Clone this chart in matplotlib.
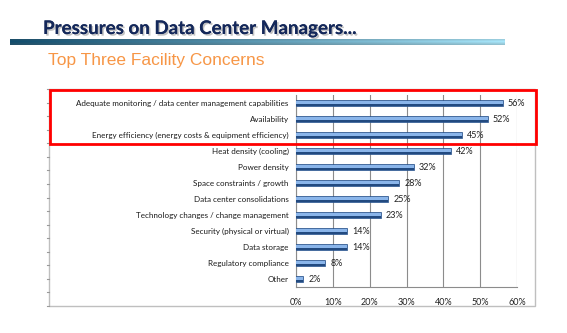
import numpy as np
import matplotlib
matplotlib.use("Agg")
import matplotlib.pyplot as plt
import matplotlib.patheffects as pe
from matplotlib.patches import Rectangle

categories = [
    "Adequate monitoring / data center management capabilities",
    "Availability",
    "Energy efficiency (energy costs & equipment efficiency)",
    "Heat density (cooling)",
    "Power density",
    "Space constraints / growth",
    "Data center consolidations",
    "Technology changes / change management",
    "Security (physical or virtual)",
    "Data storage",
    "Regulatory compliance",
    "Other",
]
values = [56, 52, 45, 42, 32, 28, 25, 23, 14, 14, 8, 2]
xticks = [0, 10, 20, 30, 40, 50, 60]
xtick_labels = ["0%", "10%", "20%", "30%", "40%", "50%", "60%"]
title = "Pressures on Data Center Managers..."
subtitle = "Top Three Facility Concerns"

W, H = 567, 333
fig = plt.figure(figsize=(W / 100, H / 100), dpi=100)
fig.patch.set_facecolor("white")

def fx(px):
    return px / W

def fy(py):
    return 1 - py / H

# Title
fig.text(fx(43), fy(28.5), title, fontsize=13.5, fontweight="bold", family="Lato",
         color="#14285a", va="center", ha="left",
         path_effects=[pe.withSimplePatchShadow(offset=(1.2, -1.2), shadow_rgbFace="#9a9a9a", alpha=0.6), pe.Normal()])

# Gradient rule
gax = fig.add_axes([fx(10), fy(45), fx(505) - fx(10), (45 - 38.5) / H])
gax.set_axis_off()
n = 400
t = np.linspace(0, 1, n)
left = np.array([0x10, 0x4c, 0x6c]) / 255
right = np.array([0xa8, 0xe6, 0xfa]) / 255
row = left[None, :] * (1 - t[:, None]) + right[None, :] * t[:, None]
vert = np.array([0.75, 0.9, 1.0, 0.9, 0.75])
img = np.clip(row[None, :, :] * vert[:, None, None] + (1 - vert[:, None, None]) * 0.35, 0, 1)
gax.imshow(img, aspect="auto", extent=[0, 1, 0, 1], interpolation="bilinear")
gax.set_xlim(0, 1)
gax.set_ylim(0, 1)

# Subtitle
fig.text(fx(48), fy(60), subtitle, fontsize=12.5, family="Liberation Sans",
         color="#f79646", va="center", ha="left")

# Chart frame
frame = Rectangle((fx(49), fy(306)), fx(535) - fx(49), fy(89) - fy(306),
                  transform=fig.transFigure, fill=False, edgecolor="#bfbfbf", linewidth=1.0)
fig.patches.append(frame)
for yy in np.linspace(89, 306, 17):
    fig.lines.append(plt.Line2D([fx(46.5), fx(49)], [fy(yy), fy(yy)], transform=fig.transFigure,
                                color="#9a9a9a", linewidth=0.8))

# Plot axes
ax = fig.add_axes([fx(295.7), fy(287.3), fx(517.3) - fx(295.7), fy(95.3) - fy(287.3)])
y = np.arange(len(categories))
bh = 0.38
ax.barh(y, values, height=bh, color="#3f74bb", edgecolor="#254e86", linewidth=0.5, zorder=3)
ax.barh(y - bh * 0.1, values, height=bh * 0.4, color="#8ab5ea", linewidth=0, zorder=4)
ax.barh(y + bh * 0.3, values, height=bh * 0.28, color="#224a80", linewidth=0, zorder=4)
for yi, v in zip(y, values):
    ax.text(v + 1.4, yi, f"{v}%", va="center", ha="left", fontsize=6.5, family="Lato", color="#222222")
ax.set_ylim(len(categories) - 0.5, -0.5)
ax.set_xlim(0, 60)
ax.set_xticks(xticks)
ax.set_xticklabels(xtick_labels, fontsize=6.5, family="Lato", color="#222222")
ax.set_yticks(y)
ax.set_yticklabels(categories, fontsize=5.8, family="Lato", color="#1a1a1a")
ax.tick_params(axis="both", length=0, pad=5)
ax.tick_params(axis="x", pad=8)
ax.grid(axis="x", color="#8c8c8c", linewidth=0.8, zorder=0)
for s in ["top", "right"]:
    ax.spines[s].set_visible(False)
for s in ["left", "bottom"]:
    ax.spines[s].set_color("#8c8c8c")
    ax.spines[s].set_linewidth(0.8)

# Red highlight box
red = Rectangle((fx(49.5), fy(144)), fx(535.5) - fx(49.5), fy(89.5) - fy(144),
                transform=fig.transFigure, fill=False, edgecolor="#ff0000", linewidth=2.0, zorder=10)
fig.patches.append(red)

fig.savefig("out.png", dpi=100, facecolor="white")
